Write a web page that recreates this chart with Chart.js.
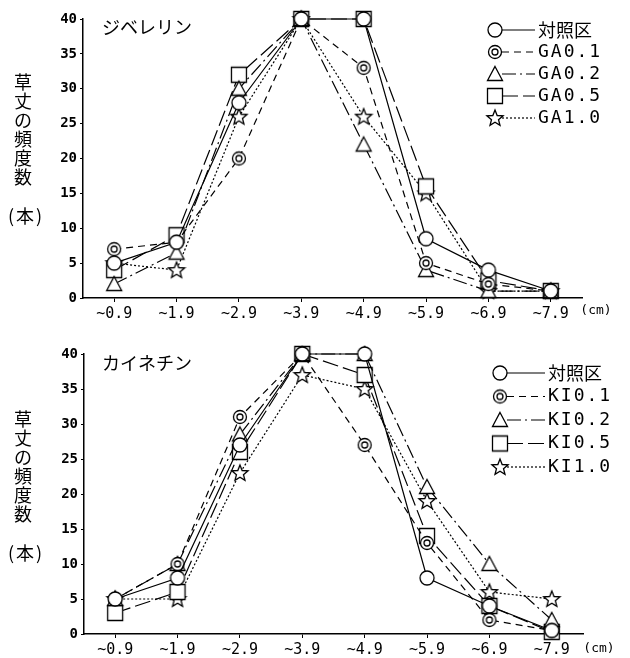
<!DOCTYPE html>
<html>
<head>
<meta charset="utf-8">
<script src="https://cdn.jsdelivr.net/npm/chart.js@4"></script>
<style>
  body { margin: 0; background: #fff; }
  #wrap { position: relative; width: 630px; height: 658px; }
  canvas { position: absolute; left: 0; }
</style>
</head>
<body>
<div id="wrap">
  <canvas id="topChart" width="630" height="329" style="top:0"></canvas>
  <canvas id="bottomChart" width="630" height="329" style="top:329px"></canvas>
</div>
<script>
const categories = ['~0.9', '~1.9', '~2.9', '~3.9', '~4.9', '~5.9', '~6.9', '~7.9'];

// ジベレリン
const gaNames = ['対照区', 'GA0.1', 'GA0.2', 'GA0.5', 'GA1.0'];
const gaControl = [5, 8, 28, 40, 40, 8.5, 4, 1];
const ga01 = [7, 8, 20, 40, 33, 5, 2, 1];
const ga02 = [2, 6.5, 30, 40, 22, 4, 1, 1];
const ga05 = [4, 9, 32, 40, 40, 16, 2.5, 1];
const ga10 = [5, 4, 26, 40, 26, 15, 1, 1];

// カイネチン
const kiNames = ['対照区', 'KI0.1', 'KI0.2', 'KI0.5', 'KI1.0'];
const kiControl = [5, 8, 27, 40, 40, 8, 4, 0.5];
const ki01 = [5, 10, 31, 40, 27, 13, 2, 0.5];
const ki02 = [5, 10, 28.5, 40, 40, 21, 10, 2];
const ki05 = [3, 6, 26, 40, 37, 14, 4, 0.3];
const ki10 = [5, 5, 23, 37, 35, 19, 6, 5];

const yTicks = [0, 5, 10, 15, 20, 25, 30, 35, 40];

const markerKinds = ['circle', 'double', 'triangle', 'square', 'star'];
const dashes = [[], [7, 5], [14, 4, 2, 4], [16, 5], [2, 2]];

function makeMarker(kind) {
    const c = document.createElement('canvas');
    c.width = 20; c.height = 20;
    const g = c.getContext('2d');
    g.strokeStyle = '#000';
    g.fillStyle = '#fff';
    g.lineWidth = 1.3;
    g.beginPath();
    if (kind === 'circle') {
        g.arc(10, 10, 7, 0, Math.PI * 2);
    } else if (kind === 'double') {
        g.arc(10, 10, 6.5, 0, Math.PI * 2);
        g.fill(); g.stroke();
        g.beginPath();
        g.arc(10, 10, 3, 0, Math.PI * 2);
    } else if (kind === 'triangle') {
        g.moveTo(10, 2.5);
        g.lineTo(17.5, 16.5);
        g.lineTo(2.5, 16.5);
        g.closePath();
    } else if (kind === 'square') {
        g.rect(2.5, 2.5, 15, 15);
    } else if (kind === 'star') {
        for (let i = 0; i < 10; i++) {
            const r = i % 2 === 0 ? 8.5 : 3.7;
            const a = -Math.PI / 2 + i * Math.PI / 5;
            const px = 10 + r * Math.cos(a), py = 10.5 + r * Math.sin(a);
            if (i === 0) g.moveTo(px, py); else g.lineTo(px, py);
        }
        g.closePath();
    }
    g.fill();
    g.stroke();
    return c;
}

const markers = markerKinds.map(makeMarker);

const decorPlugin = {
    id: 'decor',
    afterDraw(chart, args, o) {
        const ctx = chart.ctx;
        ctx.save();
        ctx.fillStyle = '#000';
        // panel title
        ctx.font = '18px "Noto Sans CJK JP"';
        ctx.textAlign = 'left';
        ctx.textBaseline = 'middle';
        ctx.fillText(o.title, o.titleX, o.titleY);
        // vertical y label
        ctx.textAlign = 'center';
        const chars = Array.from('草丈の頻度数');
        chars.forEach((ch, i) => ctx.fillText(ch, 23, o.yLabelTop + i * 19));
        ctx.letterSpacing = '2px';
        ctx.fillText('(本)', 26, o.yLabelTop + 134);
        ctx.letterSpacing = '0px';
        // unit
        ctx.font = '13px "DejaVu Sans Mono"';
        ctx.fillText('(cm)', o.cmX, o.cmY);
        // legend
        o.names.forEach((name, i) => {
            const y = o.legY + i * o.legStep;
            const ds = chart.data.datasets[i];
            ctx.save();
            ctx.strokeStyle = '#000';
            ctx.lineWidth = 1.2;
            ctx.setLineDash(ds.borderDash);
            ctx.beginPath();
            ctx.moveTo(o.legX + 7, y);
            ctx.lineTo(o.legX + o.lineLen, y);
            ctx.stroke();
            ctx.restore();
            ctx.drawImage(markers[i], o.legX - 10, y - 10);
            ctx.textAlign = 'left';
            if (i === 0) {
                ctx.font = '18px "Noto Sans CJK JP"';
                ctx.letterSpacing = '0px';
            } else {
                ctx.font = '18px "DejaVu Sans Mono"';
                ctx.letterSpacing = '2px';
            }
            ctx.fillText(name, o.legX + o.lineLen + 3, y);
            ctx.letterSpacing = '0px';
        });
        ctx.restore();
    }
};

function buildChart(id, names, series, pad, yWidth, xHeight, decor) {
    const datasets = series.map((data, i) => ({
        label: names[i],
        data: data,
        borderColor: '#000',
        borderWidth: 1.2,
        borderDash: dashes[i],
        pointStyle: markers[i],
        pointRadius: 8,
        fill: false,
        tension: 0,
        clip: false
    }));
    return new Chart(document.getElementById(id).getContext('2d'), {
        type: 'line',
        data: { labels: categories, datasets: datasets },
        options: {
            responsive: false,
            animation: false,
            layout: { padding: pad },
            plugins: {
                legend: { display: false },
                tooltip: { enabled: false },
                decor: decor
            },
            scales: {
                x: {
                    offset: true,
                    grid: { drawOnChartArea: false, tickLength: 4, color: '#000' },
                    border: { color: '#000', width: 1.5 },
                    ticks: { color: '#000', padding: 3, font: { family: 'DejaVu Sans Mono', size: 15 } },
                    afterFit(scale) { scale.height = xHeight; }
                },
                y: {
                    min: 0,
                    max: 40,
                    afterBuildTicks(scale) { scale.ticks = yTicks.map(v => ({ value: v })); },
                    grid: { drawOnChartArea: false, tickLength: 3, color: '#000' },
                    border: { color: '#000', width: 1.5 },
                    ticks: { color: '#000', padding: 3, font: { family: 'DejaVu Sans Mono', size: 14, weight: 'bold' } },
                    afterFit(scale) { scale.width = yWidth; }
                }
            }
        },
        plugins: [decorPlugin]
    });
}

buildChart('topChart', gaNames, [gaControl, ga01, ga02, ga05, ga10],
    { left: 0, right: 48, top: 19, bottom: 0 }, 83, 31,
    { title: 'ジベレリン', titleX: 102, titleY: 27, yLabelTop: 82, cmX: 596, cmY: 311,
      names: gaNames, legX: 495, legY: 30, legStep: 22, lineLen: 40 });

buildChart('bottomChart', kiNames, [kiControl, ki01, ki02, ki05, ki10],
    { left: 0, right: 47, top: 25, bottom: 0 }, 84, 24,
    { title: 'カイネチン', titleX: 102, titleY: 34, yLabelTop: 90, cmX: 599, cmY: 320,
      names: kiNames, legX: 500, legY: 44, legStep: 23.5, lineLen: 45 });
</script>
</body>
</html>
